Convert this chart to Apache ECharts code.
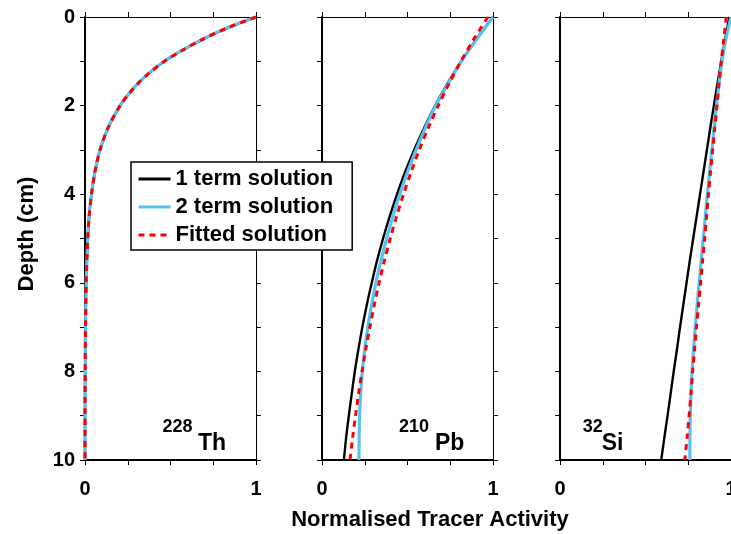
<!DOCTYPE html>
<html>
<head>
<meta charset="utf-8">
<script src="https://cdn.jsdelivr.net/npm/echarts@6/dist/echarts.min.js"></script>
<style>
  html, body { margin: 0; padding: 0; background: #fff; overflow: hidden; }
  #chart { width: 731px; height: 534px; }
</style>
</head>
<body>
<div id="chart"></div>
<script>
// ---------- data ----------
const seriesNames = ['1 term solution', '2 term solution', 'Fitted solution'];

// 228Th panel
const thDepth   = [0, 0.25, 0.5, 0.75, 1, 1.25, 1.5, 1.75, 2, 2.5, 3, 3.5, 4, 4.5, 5, 6, 7, 8, 9, 10];
const thOneTerm = [1, 0.83, 0.69, 0.57, 0.465, 0.38, 0.31, 0.253, 0.205, 0.135, 0.088, 0.058, 0.038, 0.024, 0.016, 0.007, 0.003, 0.001, 0, 0];
const thTwoTerm = [1, 0.83, 0.69, 0.57, 0.465, 0.38, 0.31, 0.253, 0.205, 0.135, 0.088, 0.058, 0.038, 0.024, 0.016, 0.007, 0.003, 0.001, 0, 0];
const thFitted  = [1, 0.83, 0.69, 0.57, 0.465, 0.38, 0.31, 0.253, 0.205, 0.135, 0.088, 0.058, 0.038, 0.024, 0.016, 0.007, 0.003, 0.001, 0, 0];

// 210Pb panel
const pbDepth   = [0, 0.5, 1, 1.5, 2, 2.5, 3, 3.5, 4, 4.5, 5, 5.5, 6, 6.5, 7, 7.5, 8, 8.5, 9, 9.5, 10];
const pbOneTerm = [1, 0.902, 0.814, 0.734, 0.662, 0.598, 0.539, 0.486, 0.439, 0.396, 0.357, 0.322, 0.291, 0.262, 0.236, 0.213, 0.192, 0.174, 0.157, 0.141, 0.128];
const pbTwoTerm = [1, 0.905, 0.815, 0.738, 0.665, 0.605, 0.55, 0.5, 0.455, 0.415, 0.378, 0.345, 0.315, 0.29, 0.268, 0.25, 0.236, 0.226, 0.22, 0.217, 0.216];
const pbFitted  = [0.97, 0.888, 0.812, 0.743, 0.68, 0.622, 0.569, 0.521, 0.477, 0.436, 0.399, 0.365, 0.334, 0.306, 0.28, 0.256, 0.234, 0.214, 0.196, 0.179, 0.164];

// 32Si panel
const siDepth   = [0, 0.5, 1, 1.5, 2, 2.5, 3, 3.5, 4, 4.5, 5, 5.5, 6, 6.5, 7, 7.5, 8, 8.5, 9, 9.5, 10];
const siOneTerm = [0.99, 0.966, 0.943, 0.921, 0.9, 0.879, 0.859, 0.839, 0.819, 0.799, 0.779, 0.759, 0.74, 0.721, 0.702, 0.684, 0.665, 0.647, 0.629, 0.61, 0.592];
const siTwoTerm = [1, 0.97, 0.947, 0.93, 0.915, 0.901, 0.888, 0.875, 0.862, 0.85, 0.838, 0.826, 0.814, 0.802, 0.791, 0.781, 0.772, 0.766, 0.762, 0.76, 0.759];
const siFitted  = [0.972, 0.958, 0.943, 0.93, 0.918, 0.905, 0.893, 0.88, 0.868, 0.857, 0.846, 0.834, 0.822, 0.81, 0.798, 0.787, 0.776, 0.766, 0.755, 0.743, 0.73];

const xTickLabels = ['0', '1'];
const yTickLabels = ['0', '2', '4', '6', '8', '10'];

const panels = [
  { mass: '228', elem: 'Th', depth: thDepth, vals: [thOneTerm, thTwoTerm, thFitted] },
  { mass: '210', elem: 'Pb', depth: pbDepth, vals: [pbOneTerm, pbTwoTerm, pbFitted] },
  { mass: '32',  elem: 'Si', depth: siDepth, vals: [siOneTerm, siTwoTerm, siFitted] }
];

// ---------- layout / style ----------
const FONT = '"Liberation Sans", Arial, Helvetica, sans-serif';
const gridLefts = [85, 322, 560];
const gridWidth = 171;
const gridTop = 17, gridHeight = 443;
const massOffset = [77.5, 77, 22.7];   // superscript left, from panel left
const elemOffset = [35.5, 36, 19];     // element symbol left, from superscript left
const colors = ['#000000', '#56c1f3', '#ff0000'];
const lineStyles = [
  { color: colors[0], width: 2.4, type: 'solid' },
  { color: colors[1], width: 3.2, type: 'solid' },
  { color: colors[2], width: 3, type: [6, 5] }
];

const grids = [], xAxes = [], yAxes = [], series = [], graphics = [];
panels.forEach((p, i) => {
  grids.push({ left: gridLefts[i], top: gridTop, width: gridWidth, height: gridHeight,
               containLabel: false, outerBoundsMode: 'none' });
  const tickStyle = { show: true, length: 5, lineStyle: { color: '#000', width: 1 } };
  // bottom x
  xAxes.push({
    type: 'value', gridIndex: i, position: 'bottom', min: 0, max: 1, interval: 0.25,
    axisLine: { show: true, onZero: false, lineStyle: { color: '#000', width: 2 } },
    axisTick: tickStyle, splitLine: { show: false },
    axisLabel: {
      show: true, margin: 19, color: '#000', fontFamily: FONT, fontWeight: 'bold', fontSize: 20,
      formatter: v => (v === 0 ? xTickLabels[0] : (v === 1 ? xTickLabels[1] : ''))
    }
  });
  // top x
  xAxes.push({
    type: 'value', gridIndex: i, position: 'top', min: 0, max: 1, interval: 0.25,
    axisLine: { show: true, onZero: false, lineStyle: { color: '#000', width: 1 } },
    axisTick: tickStyle, splitLine: { show: false }, axisLabel: { show: false }
  });
  // left y
  yAxes.push({
    type: 'value', gridIndex: i, position: 'left', inverse: true, min: 0, max: 10, interval: 1,
    axisLine: { show: true, onZero: false, lineStyle: { color: '#000', width: 2 } },
    axisTick: tickStyle, splitLine: { show: false },
    axisLabel: {
      show: i === 0, margin: 10, color: '#000', fontFamily: FONT, fontWeight: 'bold', fontSize: 20,
      formatter: v => (v % 2 === 0 ? yTickLabels[v / 2] : '')
    }
  });
  // right y
  yAxes.push({
    type: 'value', gridIndex: i, position: 'right', inverse: true, min: 0, max: 10, interval: 1,
    axisLine: { show: true, onZero: false, lineStyle: { color: '#000', width: 1 } },
    axisTick: tickStyle, splitLine: { show: false }, axisLabel: { show: false }
  });

  p.vals.forEach((arr, k) => {
    series.push({
      name: seriesNames[k], type: 'line',
      xAxisIndex: i * 2, yAxisIndex: i * 2,
      data: arr.map((x, j) => [x, p.depth[j]]),
      symbol: 'none', showSymbol: false, smooth: 0.3, z: 2 + k,
      itemStyle: { color: colors[k] },
      lineStyle: lineStyles[k]
    });
  });

  // isotope label
  const sx = gridLefts[i] + massOffset[i];
  graphics.push({
    type: 'text', left: sx, top: 418, z: 50,
    style: { text: p.mass, fill: '#000', font: 'bold 18px ' + FONT }
  });
  graphics.push({
    type: 'text', left: sx + elemOffset[i], top: 432, z: 50,
    style: { text: p.elem, fill: '#000', font: 'bold 23px ' + FONT }
  });
});

// axis titles
graphics.push({
  type: 'text', x: 27, y: 234, rotation: Math.PI / 2, z: 50,
  style: { text: 'Depth (cm)', fill: '#000', font: 'bold 22px ' + FONT, align: 'center', verticalAlign: 'middle' }
});
graphics.push({
  type: 'text', x: 430, y: 520, z: 50,
  style: { text: 'Normalised Tracer Activity', fill: '#000', font: 'bold 22px ' + FONT, align: 'center', verticalAlign: 'middle' }
});

const chart = echarts.init(document.getElementById('chart'), null, { renderer: 'canvas' });
chart.setOption({
  animation: false,
  backgroundColor: '#ffffff',
  grid: grids, xAxis: xAxes, yAxis: yAxes, series: series,
  legend: {
    data: seriesNames, orient: 'vertical', left: 131, top: 162,
    selectedMode: false, backgroundColor: '#ffffff', borderColor: '#000', borderWidth: 1.5, borderRadius: 0,
    padding: [6, 19, 4, 6], itemGap: 6, itemWidth: 32, itemHeight: 14,
    itemStyle: { opacity: 0 },
    lineStyle: { width: 3 },
    textStyle: { color: '#000', fontFamily: FONT, fontWeight: 'bold', fontSize: 22, lineHeight: 21, padding: [0, 0, 0, 0] },
    z: 20
  },
  graphic: graphics
});
</script>
</body>
</html>
